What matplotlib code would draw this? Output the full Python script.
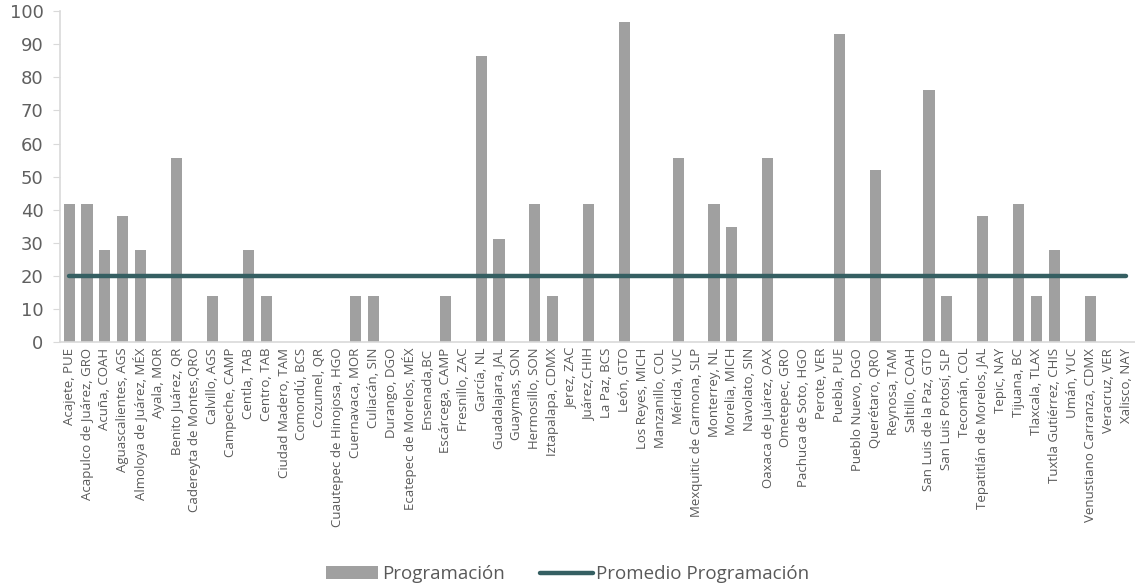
import matplotlib
matplotlib.use("Agg")
import matplotlib.pyplot as plt
from matplotlib.patches import Patch
from matplotlib.lines import Line2D

plt.rcParams['font.family'] = ['Open Sans', 'DejaVu Sans']

municipios = [
    "Acajete, PUE", "Acapulco de Juárez, GRO", "Acuña, COAH", "Aguascalientes, AGS",
    "Almoloya de Juárez, MÉX", "Ayala, MOR", "Benito Juárez, QR", "Cadereyta de Montes,QRO",
    "Calvillo, AGS", "Campeche, CAMP", "Centla, TAB", "Centro, TAB", "Ciudad Madero, TAM",
    "Comondú, BCS", "Cozumel, QR", "Cuautepec de Hinojosa, HGO", "Cuernavaca, MOR",
    "Culiacán, SIN", "Durango, DGO", "Ecatepec de Morelos, MÉX", "Ensenada,BC",
    "Escárcega, CAMP", "Fresnillo, ZAC", "García, NL", "Guadalajara, JAL", "Guaymas, SON",
    "Hermosillo, SON", "Iztapalapa, CDMX", "Jerez, ZAC", "Juárez,CHIH", "La Paz, BCS",
    "León, GTO", "Los Reyes, MICH", "Manzanillo, COL", "Mérida, YUC",
    "Mexquitic de Carmona, SLP", "Monterrey, NL", "Morelia, MICH", "Navolato, SIN",
    "Oaxaca de Juárez, OAX", "Ometepec, GRO", "Pachuca de Soto, HGO", "Perote, VER",
    "Puebla, PUE", "Pueblo Nuevo, DGO", "Querétaro, QRO", "Reynosa, TAM", "Saltillo, COAH",
    "San Luis de la Paz, GTO", "San Luis Potosí, SLP", "Tecomán, COL",
    "Tepatitlán de Morelos, JAL", "Tepic, NAY", "Tijuana, BC", "Tlaxcala, TLAX",
    "Tuxtla Gutiérrez, CHIS", "Umán, YUC", "Venustiano Carranza, CDMX", "Veracruz, VER",
    "Xalisco, NAY",
]

programacion = [
    41.7, 41.7, 27.8, 38.2, 27.8, 0, 55.6, 0, 13.9, 0,
    27.8, 13.9, 0, 0, 0, 0, 13.9, 13.9, 0, 0,
    0, 13.9, 0, 86.5, 31.3, 0, 41.7, 13.9, 0, 41.7,
    0, 96.7, 0, 0, 55.6, 0, 41.7, 34.8, 0, 55.6,
    0, 0, 0, 93.2, 0, 52.1, 0, 0, 76.1, 13.9,
    0, 38.2, 0, 41.7, 13.9, 27.8, 0, 13.9, 0, 0,
]

promedio = [20.0] * len(municipios)

bar_color = "#A0A0A0"
line_color = "#355F62"
text_color = "#595959"
axis_color = "#D9D9D9"

fig = plt.figure(figsize=(11.35, 5.85), dpi=100)
ax = fig.add_axes([0.053, 0.415, 0.947, 0.566])

x = range(len(municipios))
ax.bar(x, programacion, width=0.62, color=bar_color, zorder=2)
ax.plot(x, promedio, color=line_color, linewidth=3.2, solid_capstyle="round", zorder=3)

ax.set_xlim(-0.5, len(municipios) - 0.5)
ax.set_ylim(0, 100)
ax.set_yticks(range(0, 101, 10))
ax.set_xticks(list(x))
ax.set_xticklabels(municipios, rotation=90, fontsize=9.5, color=text_color)
for lbl in ax.get_yticklabels():
    lbl.set_family(['DejaVu Sans'])
ax.tick_params(axis="y", labelsize=13, labelcolor="#606060", color=axis_color, length=5, pad=7)
ax.tick_params(axis="x", length=0, pad=4)

for side in ["top", "right"]:
    ax.spines[side].set_visible(False)
for side in ["left", "bottom"]:
    ax.spines[side].set_color(axis_color)
    ax.spines[side].set_linewidth(1.2)

handles = [
    Patch(facecolor=bar_color, edgecolor="none"),
    Line2D([0], [0], color=line_color, linewidth=3.2, solid_capstyle="round"),
]
fig.legend(handles, ["Programación", "Promedio Programación"], loc="center",
           bbox_to_anchor=(0.5, 0.018), ncol=2, frameon=False, fontsize=13.5,
           labelcolor=text_color, handlelength=2.8, handleheight=0.7,
           handletextpad=0.2, columnspacing=1.9)

fig.savefig("out.png", dpi=100)
